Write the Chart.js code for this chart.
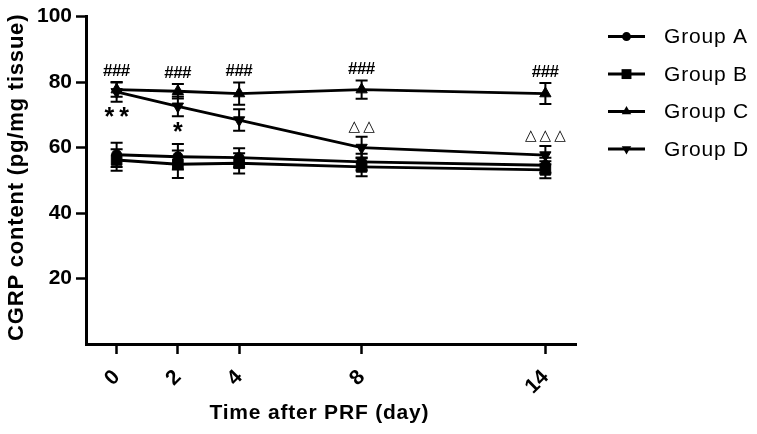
<!DOCTYPE html>
<html><head><meta charset="utf-8">
<script src="https://cdn.jsdelivr.net/npm/chart.js@4.4.1/dist/chart.umd.min.js"></script>
<style>html,body{margin:0;padding:0;background:#fff;}#wrap{width:757px;height:434px;position:relative;}</style>
</head><body><div id="wrap"><canvas id="c" width="757" height="434"></canvas></div>
<script>
// ---- data ----
const days = [0, 2, 4, 8, 14];
const xTicks = [0, 2, 4, 8, 14];
const yTicks = [20, 40, 60, 80, 100];
const seriesNames = ['Group A', 'Group B', 'Group C', 'Group D'];
const groupA = [57.8, 57.2, 56.9, 55.6, 54.6];
const errA   = [3.7, 3.9, 2.9, 2.5, 2.3];
const groupB = [56.2, 54.9, 55.2, 54.1, 53.2];
const errB   = [3.3, 4.2, 3.1, 2.9, 2.6];
const groupC = [77.7, 77.2, 76.5, 77.7, 76.5];
const errC   = [2.2, 2.2, 3.4, 2.8, 3.2];
const groupD = [77.0, 72.6, 68.4, 60.0, 57.7];
const errD   = [3.0, 3.0, 3.3, 3.3, 2.8];
const sigAboveC = ['###', '###', '###', '###', '###'];
const sigBelowD = ['**', '*', '', '', ''];
const sigAboveD = ['', '', '', '\u25B3\u25B3', '\u25B3\u25B3\u25B3'];
const xTitle = 'Time after PRF (day)';
const yTitle = 'CGRP content (pg/mg tissue)';

const values = [groupA, groupB, groupC, groupD];
const errors = [errA, errB, errC, errD];
const styles = [
  {pointStyle: 'circle', radius: 5, rot: 0, legendRadius: 4.5},
  {pointStyle: 'rect', radius: 7.5, rot: 0, legendRadius: 7},
  {pointStyle: 'triangle', radius: 6.5, rot: 0, legendRadius: 5.5},
  {pointStyle: 'triangle', radius: 6.5, rot: 180, legendRadius: 5.5}
];

const datasets = values.map((vals, i) => ({
  label: seriesNames[i],
  data: days.map((d, j) => ({x: d, y: vals[j]})),
  borderColor: '#000',
  backgroundColor: '#000',
  borderWidth: 2.8,
  pointStyle: styles[i].pointStyle,
  pointRadius: styles[i].radius,
  pointRotation: styles[i].rot,
  pointBorderWidth: 1,
  pointBackgroundColor: '#000',
  pointBorderColor: '#000',
  tension: 0,
  fill: false
}));

function drawInkCentered(ctx, text, x, yc) {
  const m = ctx.measureText(text);
  const asc = m.actualBoundingBoxAscent, desc = m.actualBoundingBoxDescent;
  const w = m.width;
  ctx.textAlign = 'left';
  ctx.textBaseline = 'alphabetic';
  ctx.fillText(text, x - w / 2 + (parseFloat(ctx.letterSpacing) || 0) / 2, yc + (asc - desc) / 2);
}

const errPlugin = {
  id: 'errbars',
  afterDatasetsDraw(chart) {
    const {ctx, scales: {x, y}} = chart;
    ctx.save();
    ctx.strokeStyle = '#000';
    ctx.lineWidth = 2;
    values.forEach((vals, i) => {
      vals.forEach((v, j) => {
        const px = x.getPixelForValue(days[j]);
        const t = y.getPixelForValue(v + errors[i][j]);
        const b = y.getPixelForValue(v - errors[i][j]);
        ctx.beginPath();
        ctx.moveTo(px, t); ctx.lineTo(px, b);
        ctx.moveTo(px - 6, t); ctx.lineTo(px + 6, t);
        ctx.moveTo(px - 6, b); ctx.lineTo(px + 6, b);
        ctx.stroke();
      });
    });
    // significance marks
    ctx.fillStyle = '#000';
    days.forEach((d, j) => {
      const px = x.getPixelForValue(d);
      if (sigAboveC[j]) {
        ctx.font = 'bold 17px "Liberation Sans"';
        ctx.letterSpacing = '-0.5px';
        drawInkCentered(ctx, sigAboveC[j], px, y.getPixelForValue(groupC[j] + errC[j]) - 12);
      }
      if (sigBelowD[j]) {
        ctx.font = 'bold 25px "Liberation Sans"';
        ctx.letterSpacing = '5px';
        drawInkCentered(ctx, sigBelowD[j], px, y.getPixelForValue(groupD[j] - errD[j]) + 10.5);
      }
      if (sigAboveD[j]) {
        ctx.font = '15px "DejaVu Sans"';
        ctx.letterSpacing = '3px';
        drawInkCentered(ctx, sigAboveD[j], px, y.getPixelForValue(groupD[j] + errD[j]) - 9.5);
      }
    });
    ctx.letterSpacing = '0px';
    ctx.restore();
  }
};

function marker(ctx, style, r, x, y) {
  ctx.beginPath();
  if (style.pointStyle === 'circle') {
    ctx.arc(x, y, r, 0, Math.PI * 2);
  } else if (style.pointStyle === 'rect') {
    const s = r * Math.SQRT1_2;
    ctx.rect(x - s, y - s, 2 * s, 2 * s);
  } else {
    let rad = style.rot * Math.PI / 180;
    for (let k = 0; k < 3; k++) {
      const fx = x + Math.sin(rad) * r, fy = y - Math.cos(rad) * r;
      if (k === 0) ctx.moveTo(fx, fy); else ctx.lineTo(fx, fy);
      rad += 2 * Math.PI / 3;
    }
    ctx.closePath();
  }
  ctx.fill();
}

const decorPlugin = {
  id: 'decor',
  afterDraw(chart) {
    const {ctx, chartArea: ca} = chart;
    ctx.save();
    ctx.fillStyle = '#000';
    ctx.strokeStyle = '#000';
    // axis titles
    ctx.font = 'bold 21px "Liberation Sans"';
    ctx.letterSpacing = '0.8px';
    drawInkCentered(ctx, xTitle, (ca.left + ca.right) / 2 - 12, 413);
    ctx.save();
    ctx.translate(17, (ca.top + ca.bottom) / 2 - 3);
    ctx.rotate(-Math.PI / 2);
    ctx.font = 'bold 22px "Liberation Sans"';
    ctx.letterSpacing = '0.8px';
    drawInkCentered(ctx, yTitle, 0, 0);
    ctx.restore();
    // legend
    const lx0 = ca.right + 32, lx1 = ca.right + 69, tx = ca.right + 88;
    ctx.font = '21px "Liberation Sans"';
    ctx.letterSpacing = '0.8px';
    seriesNames.forEach((name, i) => {
      const yy = ca.top + 20 + i * 37.5;
      ctx.lineWidth = 3;
      ctx.beginPath(); ctx.moveTo(lx0, yy); ctx.lineTo(lx1, yy); ctx.stroke();
      marker(ctx, styles[i], styles[i].legendRadius, (lx0 + lx1) / 2, yy);
      ctx.textAlign = 'left';
      ctx.textBaseline = 'middle';
      ctx.fillText(name, tx, yy + 1);
    });
    ctx.letterSpacing = '0px';
    ctx.restore();
  }
};

const tickFont = {family: '"Liberation Sans"', weight: 'bold', size: 21};

new Chart(document.getElementById('c'), {
  type: 'line',
  data: {datasets},
  plugins: [errPlugin, decorPlugin],
  options: {
    responsive: false,
    animation: false,
    devicePixelRatio: 1,
    layout: {padding: {left: 0, right: 181, top: 15, bottom: 0}},
    plugins: {legend: {display: false}, tooltip: {enabled: false}},
    scales: {
      x: {
        type: 'linear', min: -1, max: 15,
        afterBuildTicks: s => { s.ticks = xTicks.map(v => ({value: v})); },
        afterFit: s => { s.height = 90; },
        grid: {drawOnChartArea: false, drawTicks: true, tickLength: 10, tickWidth: 2.5, tickColor: '#000'},
        border: {display: true, color: '#000', width: 3},
        ticks: {color: '#000', font: tickFont, minRotation: 45, maxRotation: 45, padding: 11, autoSkip: false,
                callback: v => String(v)},
        title: {display: false}
      },
      y: {
        min: 0, max: 100,
        afterBuildTicks: s => { s.ticks = yTicks.map(v => ({value: v})); },
        afterFit: s => { s.width = 86; },
        grid: {drawOnChartArea: false, drawTicks: true, tickLength: 10, tickWidth: 2.5, tickColor: '#000'},
        border: {display: true, color: '#000', width: 3},
        ticks: {color: '#000', font: tickFont, padding: 4, callback: v => String(v)},
        title: {display: false}
      }
    }
  }
});
</script>
</body></html>
